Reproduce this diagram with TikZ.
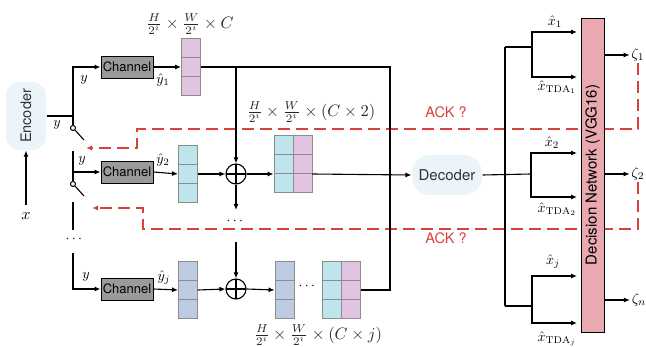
\RequirePackage{fix-cm}
\documentclass[tikz,border=0pt]{standalone}
\usepackage{amsmath}
\usepackage{fontspec}
\setsansfont{TeX Gyre Heros}
\usepackage{graphicx}
\usetikzlibrary{arrows.meta,calc}
\definecolor{encblue}{HTML}{EAF4F9}
\definecolor{chgray}{HTML}{9A9A9A}
\definecolor{cellpink}{HTML}{E0C4E0}
\definecolor{cellcyan}{HTML}{BEE4EC}
\definecolor{cellblue}{HTML}{BDCCE3}
\definecolor{netpink}{HTML}{EAA8B0}
\definecolor{ackred}{HTML}{D9413B}
\newcommand{\fsz}[1]{\fontsize{#1}{#1}\selectfont}

\begin{document}
\begin{tikzpicture}[x=1pt, y=-1pt, line width=1.1pt,
  arr/.style={-{Latex[length=6pt,width=5pt]}},
  blob/.style={fill=encblue, text=black!80, inner sep=0pt, font=\sffamily\fsz{14.5}},
  chan/.style={draw, fill=chgray, line width=0.9pt, minimum width=52pt, minimum height=22pt, inner sep=0pt, font=\sffamily\fsz{13}},
  cell/.style={draw=black!45, line width=0.9pt, minimum size=19pt, inner sep=0pt},
  plus/.style={draw, circle, minimum size=20pt, inner sep=0pt,
    path picture={\draw (path picture bounding box.north) -- (path picture bounding box.south)
      (path picture bounding box.west) -- (path picture bounding box.east);}},
  sw/.style={draw, circle, fill=white, minimum size=5pt, inner sep=0pt, line width=1pt},
  ack/.style={draw=ackred, dash pattern=on 12pt off 6pt, line width=1.1pt},
  lab/.style={scale=1.4, inner sep=0.7pt},
  dim/.style={scale=1.65, text=black!85}]
\useasboundingbox (0,0) rectangle (646,347);

\node[blob, rounded corners=13pt, minimum width=40pt, minimum height=68pt] (enc) at (26,116) {\rotatebox{90}{Encoder}};
\node[scale=1.6, inner sep=0.5pt] (xin) at (26,216) {$x$};
\node[blob, rounded corners=18pt, minimum width=70pt, minimum height=40pt, font=\sffamily\fsz{15}] (dec) at (447,175) {Decoder};

\node[chan] (ch1) at (127,67) {Channel};
\node[chan] (ch2) at (127,172) {Channel};
\node[chan] (ch3) at (127,289) {Channel};

\foreach \k in {1,2,3} {
  \node[cell, fill=cellpink] (p1-\k) at (191,{48+19*(\k-1)}) {};
  \node[cell, fill=cellcyan] (p2-\k) at (188,{155+19*(\k-1)}) {};
  \node[cell, fill=cellblue] (p3-\k) at (188,{271+19*(\k-1)}) {};
  \node[cell, fill=cellcyan] (m2a-\k) at (283.5,{145+19*(\k-1)}) {};
  \node[cell, fill=cellpink] (m2b-\k) at (302.5,{145+19*(\k-1)}) {};
  \node[cell, fill=cellblue] (m3a-\k) at (284.5,{271+19*(\k-1)}) {};
  \node[cell, fill=cellcyan] (m3b-\k) at (332,{271+19*(\k-1)}) {};
  \node[cell, fill=cellpink] (m3c-\k) at (351,{271+19*(\k-1)}) {};
}

\node[plus] (o2) at (236,174) {};
\node[plus] (o3) at (236,289) {};

\node[dim] (dim1) at (190,24) {$\frac{H}{2^i}\times\frac{W}{2^i}\times C$};
\node[dim] (dim2) at (311,112) {$\frac{H}{2^i}\times\frac{W}{2^i}\times(C\times 2)$};
\node[dim] (dim3) at (318,335) {$\frac{H}{2^i}\times\frac{W}{2^i}\times(C\times j)$};

\node[text=ackred, font=\sffamily\fsz{14.5}] (ack1) at (446,112) {ACK ?};
\node[text=ackred, font=\sffamily\fsz{14.5}] (ack2) at (446,238) {ACK ?};

\node[lab, scale=1.05] (z1) at (638,55) {$\zeta_1$};
\node[lab, scale=1.05] (z2) at (638,174) {$\zeta_2$};
\node[lab, scale=1.05] (zn) at (639,300) {$\zeta_n$};

% acknowledgements
\coordinate (r1) at (137,129);
\coordinate (k1) at (86,148);
\coordinate (r2) at (143,229);
\coordinate (k2) at (92,208);
\draw[ack, arr] (z1.south) |- (r1) |- (k1);
\draw[ack, arr] (z2.south) |- (r2) |- (k2);
\node[draw, fill=netpink, minimum width=23pt, minimum height=314pt, inner sep=0pt, line width=0.9pt, font=\sffamily\fsz{15}] (dn) at (592.5,175) {\rotatebox{90}{Decision Network (VGG16)}};

% switch
\node[sw] (sw1) at (73,128) {};
\node[sw] (sw2) at (73,184) {};
\coordinate (lv1) at (84,140);
\coordinate (lv2) at (84,196);
\coordinate (c2) at (73,151);
\coordinate (c3) at (73,202);
\coordinate (c3e) at (73,230);
\coordinate (c4) at (73,253);
\node[lab] (vd) at (75,239) {$\cdots$};

\draw[arr] ([yshift=6pt]xin.north) -- (enc.south);
\draw (enc.east) -- (enc.east -| sw1);
\draw[arr] (sw1.north) |- (ch1.west);
\draw (sw1.south east) -- (lv1);
\draw (c2) -- (sw2.north);
\draw[arr] (c2 |- ch2) -- (ch2.west);
\draw (sw2.south east) -- (lv2);
\draw (c3) -- (c3e);
\draw[arr] (c4) |- (ch3.west);

\node[lab] (ly0) at (57,125) {$y$};
\node[lab] (ly1) at (84,80) {$y$};
\node[lab] (ly2) at (82,161) {$y$};
\node[lab] (ly3) at (86,277) {$y$};
\node[lab] (lh1) at (163,80) {$\hat{y}_1$};
\node[lab] (lh2) at (163,160) {$\hat{y}_2$};
\node[lab] (lh3) at (164,278) {$\hat{y}_j$};

% features
\coordinate (mtop) at (390,67);
\coordinate (d1) at (236,210);
\coordinate (d2) at (236,242);
\node[lab] (hd1) at (236,221) {$\cdots$};
\node[lab] (hd2) at (308,286) {$\cdots$};
\draw[arr] (ch1.east) -- (p1-2.west);
\draw[arr] (ch2.east) -- (p2-2.west);
\draw[arr] (ch3.east) -- (p3-2.west);
\draw (p1-2.east) -- (mtop) |- (m3c-2.east);
\draw[arr] (o2 |- p1-2) -- (o2.north);
\draw[arr] (p2-2.east) -- (o2.west);
\draw[arr] (o2.east) -- (o2 -| m2a-2.west);
\draw[arr] (o2 -| m2b-2.east) -- (dec.west);
\draw[arr] (o2.south) -- (d1);
\draw[arr] (d2) -- (o3.north);
\draw[arr] (p3-2.east) -- (o3.west);
\draw[arr] (o3.east) -- (m3a-2.west);

% decision
\coordinate (tr1) at (505,47);
\coordinate (tr3) at (505,306);
\draw (tr1) -- (tr3);
\foreach \n/\yy/\lo/\hi/\fx in {1/47/32/77/532, 2/174/153/197/531, 3/306/276/323/532} {
  \coordinate (f\n) at (\fx,\yy);
  \coordinate (a\n) at (577,\lo);
  \coordinate (b\n) at (577,\hi);
  \draw[arr] (f\n) |- (a\n);
  \draw[arr] (f\n) |- (b\n);
}
\draw (tr1) -- (f1);
\draw (tr3) -- (f3);
\draw (dec.east) -- (f2);

\node[lab] (lx1) at (555,22) {$\hat{x}_1$};
\node[lab] (lt1) at (557,87) {$\hat{x}_{\mathrm{TDA}_1}$};
\node[lab] (lx2) at (552,143) {$\hat{x}_2$};
\node[lab] (lt2) at (557,209) {$\hat{x}_{\mathrm{TDA}_2}$};
\node[lab] (lx3) at (553,262) {$\hat{x}_j$};
\node[lab] (lt3) at (557,339) {$\hat{x}_{\mathrm{TDA}_j}$};

\draw[arr] (dn.east |- z1) -- (z1.west);
\draw[arr] (dn.east |- z2) -- (z2.west);
\draw[arr] (dn.east |- zn) -- (zn.west);
\end{tikzpicture}
\end{document}
